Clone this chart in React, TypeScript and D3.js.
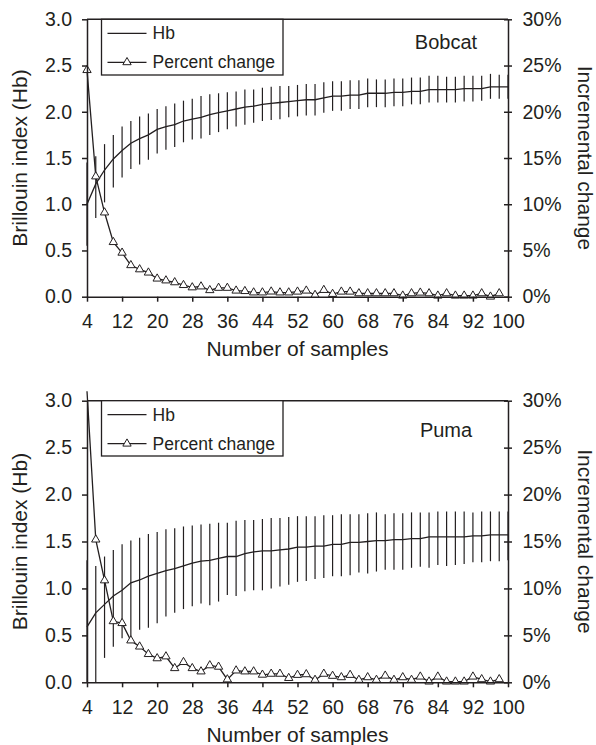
import { useEffect, useRef } from 'react'
import * as d3 from 'd3'

// number of samples (x categories)
const samples = [4, 6, 8, 10, 12, 14, 16, 18, 20, 22, 24, 26, 28, 30, 32, 34, 36, 38, 40, 42, 44, 46, 48, 50,
  52, 54, 56, 58, 60, 62, 64, 66, 68, 70, 72, 74, 76, 78, 80, 82, 84, 86, 88, 90, 92, 94, 96, 98, 100]

// Bobcat
const bobcatHb = [1.00, 1.22, 1.37, 1.49, 1.58, 1.66, 1.71, 1.75, 1.81, 1.84, 1.86, 1.90, 1.92, 1.94, 1.97, 1.99, 2.01, 2.03, 2.05, 2.06, 2.08, 2.09, 2.10, 2.11,
  2.12, 2.13, 2.13, 2.15, 2.17, 2.17, 2.18, 2.18, 2.20, 2.20, 2.20, 2.21, 2.21, 2.22, 2.22, 2.24, 2.24, 2.24, 2.24, 2.25, 2.25, 2.25, 2.27, 2.27, 2.27]
const bobcatHigh = [1.45, 1.52, 1.65, 1.75, 1.84, 1.90, 1.95, 1.98, 2.03, 2.06, 2.09, 2.12, 2.14, 2.17, 2.19, 2.20, 2.21, 2.22, 2.24, 2.24, 2.26, 2.27, 2.28, 2.28,
  2.29, 2.30, 2.30, 2.32, 2.33, 2.33, 2.34, 2.34, 2.36, 2.35, 2.35, 2.36, 2.36, 2.37, 2.37, 2.39, 2.39, 2.38, 2.38, 2.39, 2.39, 2.39, 2.41, 2.40, 2.40]
const bobcatLow = [0.55, 0.85, 1.02, 1.18, 1.29, 1.38, 1.43, 1.48, 1.55, 1.59, 1.62, 1.67, 1.70, 1.71, 1.75, 1.78, 1.81, 1.84, 1.86, 1.88, 1.90, 1.91, 1.92, 1.94,
  1.95, 1.96, 1.96, 1.99, 2.01, 2.01, 2.03, 2.03, 2.05, 2.05, 2.05, 2.06, 2.06, 2.08, 2.08, 2.10, 2.10, 2.10, 2.10, 2.11, 2.11, 2.12, 2.14, 2.14, 2.14]
// percent change runs 4..98
const bobcatPct = [24.5, 13.0, 9.1, 5.9, 4.75, 3.4, 2.95, 2.6, 1.95, 1.75, 1.55, 1.25, 1.0, 1.1, 0.7, 0.95, 0.95, 0.65, 0.6, 0.45, 0.45, 0.55, 0.45, 0.45,
  0.54, 0.65, 0.18, 0.72, 0.29, 0.54, 0.54, 0.36, 0.36, 0.36, 0.36, 0.36, 0.11, 0.36, 0.43, 0.36, 0.11, 0.36, 0.11, 0.11, 0.11, 0.36, 0.0, 0.36]

// Puma
const pumaHb = [0.59, 0.74, 0.83, 0.92, 0.98, 1.06, 1.09, 1.13, 1.16, 1.19, 1.21, 1.24, 1.27, 1.29, 1.30, 1.32, 1.34, 1.34, 1.37, 1.39, 1.40, 1.40, 1.41, 1.42,
  1.44, 1.44, 1.45, 1.45, 1.47, 1.47, 1.49, 1.49, 1.50, 1.51, 1.51, 1.52, 1.52, 1.53, 1.53, 1.55, 1.55, 1.55, 1.55, 1.55, 1.56, 1.56, 1.57, 1.57, 1.57]
const pumaHigh = [1.30, 1.24, 1.34, 1.41, 1.47, 1.51, 1.54, 1.58, 1.60, 1.63, 1.64, 1.66, 1.67, 1.68, 1.69, 1.70, 1.70, 1.72, 1.73, 1.73, 1.74, 1.75, 1.75, 1.76,
  1.77, 1.77, 1.77, 1.78, 1.78, 1.79, 1.79, 1.79, 1.80, 1.81, 1.79, 1.80, 1.80, 1.81, 1.81, 1.81, 1.82, 1.82, 1.82, 1.82, 1.81, 1.82, 1.82, 1.82, 1.82]
const pumaLow = [0.00, 0.00, 0.26, 0.38, 0.47, 0.49, 0.56, 0.58, 0.63, 0.70, 0.74, 0.78, 0.81, 0.84, 0.82, 0.86, 0.93, 0.92, 0.97, 0.98, 0.98, 1.00, 1.02, 1.04,
  1.07, 1.08, 1.10, 1.11, 1.13, 1.13, 1.14, 1.17, 1.16, 1.18, 1.20, 1.20, 1.20, 1.22, 1.23, 1.22, 1.25, 1.24, 1.25, 1.26, 1.28, 1.28, 1.29, 1.29, 1.30]
const pumaPct = [31, 15.2, 10.85, 6.5, 6.3, 4.45, 3.8, 3.0, 2.55, 2.75, 1.5, 2.15, 1.5, 1.15, 1.8, 1.65, 0.3, 1.25, 1.15, 1.15, 0.8, 0.9, 0.9, 0.45,
  0.78, 0.85, 0.25, 0.9, 0.68, 0.53, 0.78, 0.25, 0.53, 0.25, 0.7, 0.25, 0.53, 0.25, 0.6, 0.07, 0.6, 0.07, 0.07, 0.07, 0.6, 0.32, 0.07, 0.32]

// ticks
const xTicks = [4, 12, 20, 28, 36, 44, 52, 60, 68, 76, 84, 92, 100]
const hbTicks = [0, 0.5, 1.0, 1.5, 2.0, 2.5, 3.0]
const pctTicks = [0, 5, 10, 15, 20, 25, 30]

const INK = '#231f20'
const FONT = "'Liberation Sans', Arial, Helvetica, sans-serif"

function Chart() {
  const svgRef = useRef(null)

  useEffect(() => {
    const svg = d3.select(svgRef.current)
    svg.selectAll('*').remove()

    const panels = [
      { name: 'Bobcat', top: 19.3, bottom: 296.7, hb: bobcatHb, lo: bobcatLow, hi: bobcatHigh, pct: bobcatPct, nameDy: 30, legendH: 55.7 },
      { name: 'Puma', top: 400.7, bottom: 682.3, hb: pumaHb, lo: pumaLow, hi: pumaHigh, pct: pumaPct, nameDy: 36, legendH: 55.3 }
    ]

    const left = 87
    const right = 508

    panels.forEach(p => {
      const x = d3.scaleLinear().domain([4, 100]).range([left, right])
      const y = d3.scaleLinear().domain([0, 3]).range([p.bottom, p.top])
      const y2 = d3.scaleLinear().domain([0, 30]).range([p.bottom, p.top])

      const rows = samples.map((s, i) => ({ s, hb: p.hb[i], lo: p.lo[i], hi: p.hi[i], pct: p.pct[i] }))
      const pctRows = rows.filter(d => d.pct !== undefined)
      const g = svg.append('g')

      // error bars
      g.selectAll('.err')
        .data(rows)
        .enter()
        .append('line')
        .attr('x1', d => x(d.s))
        .attr('x2', d => x(d.s))
        .attr('y1', d => y(Math.max(0, d.lo)))
        .attr('y2', d => y(d.hi))
        .attr('stroke', INK)
        .attr('stroke-width', 1.2)

      // Hb line
      const hbLine = d3.line().x(d => x(d.s)).y(d => y(d.hb))
      g.append('path')
        .datum(rows)
        .attr('d', hbLine)
        .attr('fill', 'none')
        .attr('stroke', INK)
        .attr('stroke-width', 1.3)

      // percent change line
      const pctLine = d3.line().x(d => x(d.s)).y(d => y2(d.pct))
      g.append('path')
        .datum(pctRows)
        .attr('d', pctLine)
        .attr('fill', 'none')
        .attr('stroke', INK)
        .attr('stroke-width', 1.3)

      const tri = d3.symbol(d3.symbolTriangle, 30)
      g.selectAll('.mk')
        .data(pctRows.filter(d => d.pct <= 30))
        .enter()
        .append('path')
        .attr('d', tri)
        .attr('transform', d => `translate(${x(d.s)},${y2(d.pct)})`)
        .attr('fill', '#fff')
        .attr('stroke', INK)
        .attr('stroke-width', 1)

      // top border
      g.append('line')
        .attr('x1', left).attr('x2', right)
        .attr('y1', p.top).attr('y2', p.top)
        .attr('stroke', INK).attr('stroke-width', 1.5)

      // axes
      const axL = g.append('g')
        .attr('transform', `translate(${left},0)`)
        .call(d3.axisLeft(y).tickValues(hbTicks).tickFormat(d3.format('.1f')).tickSize(5).tickSizeOuter(0).tickPadding(10))
      const axR = g.append('g')
        .attr('transform', `translate(${right},0)`)
        .call(d3.axisRight(y2).tickValues(pctTicks).tickFormat(d => d + '%').tickSize(4).tickSizeOuter(0).tickPadding(10.5))
      axR.selectAll('.tick line').attr('x1', -4).attr('x2', 4)
      const axB = g.append('g')
        .attr('transform', `translate(0,${p.bottom})`)
        .call(d3.axisBottom(x).tickValues(xTicks).tickSize(5).tickSizeOuter(0))
      axB.selectAll('.tick text').attr('y', 31.6).attr('dy', null)

      ;[axL, axR, axB].forEach(ax => {
        ax.attr('font-family', FONT).attr('font-size', 19.5)
        ax.selectAll('path, line').attr('stroke', INK).attr('stroke-width', 1.5)
        ax.selectAll('text').attr('fill', INK)
      })

      // axis titles
      g.append('text')
        .attr('transform', `translate(27,${(p.top + p.bottom) / 2}) rotate(-90)`)
        .attr('text-anchor', 'middle')
        .attr('font-family', FONT).attr('font-size', 21).attr('fill', INK)
        .text('Brillouin index (Hb)')
      g.append('text')
        .attr('transform', `translate(578,${(p.top + p.bottom) / 2}) rotate(90)`)
        .attr('text-anchor', 'middle')
        .attr('font-family', FONT).attr('font-size', 21).attr('fill', INK)
        .text('Incremental change')
      g.append('text')
        .attr('x', 297.5)
        .attr('y', p.bottom + 59.4)
        .attr('text-anchor', 'middle')
        .attr('font-family', FONT).attr('font-size', 21).attr('fill', INK)
        .text('Number of samples')

      // species label
      g.append('text')
        .attr('x', 446)
        .attr('y', p.top + p.nameDy)
        .attr('text-anchor', 'middle')
        .attr('font-family', FONT).attr('font-size', 20).attr('fill', INK)
        .text(p.name)

      // legend
      const lg = g.append('g').attr('transform', `translate(${left + 14.5},${p.top})`)
      lg.append('rect')
        .attr('width', 181.5).attr('height', p.legendH)
        .attr('fill', '#fff').attr('stroke', INK).attr('stroke-width', 1.3)
      lg.append('line')
        .attr('x1', 6).attr('x2', 45).attr('y1', 14).attr('y2', 14)
        .attr('stroke', INK).attr('stroke-width', 1.3)
      lg.append('line')
        .attr('x1', 6).attr('x2', 45).attr('y1', 43).attr('y2', 43)
        .attr('stroke', INK).attr('stroke-width', 1.3)
      lg.append('path')
        .attr('d', tri)
        .attr('transform', 'translate(25.5,43)')
        .attr('fill', '#fff').attr('stroke', INK).attr('stroke-width', 1)
      lg.append('text')
        .attr('x', 51).attr('y', 20)
        .attr('font-family', FONT).attr('font-size', 17.5).attr('fill', INK)
        .text('Hb')
      lg.append('text')
        .attr('x', 51).attr('y', 49)
        .attr('font-family', FONT).attr('font-size', 17.5).attr('fill', INK)
        .text('Percent change')
    })
  }, [])

  return <svg ref={svgRef} width={596} height={745} style={{ display: 'block' }}></svg>
}

export default function App() {
  return (
    <div style={{ position: 'absolute', left: 0, top: 0, width: 596, height: 745, background: '#fff' }}>
      <Chart />
    </div>
  )
}
